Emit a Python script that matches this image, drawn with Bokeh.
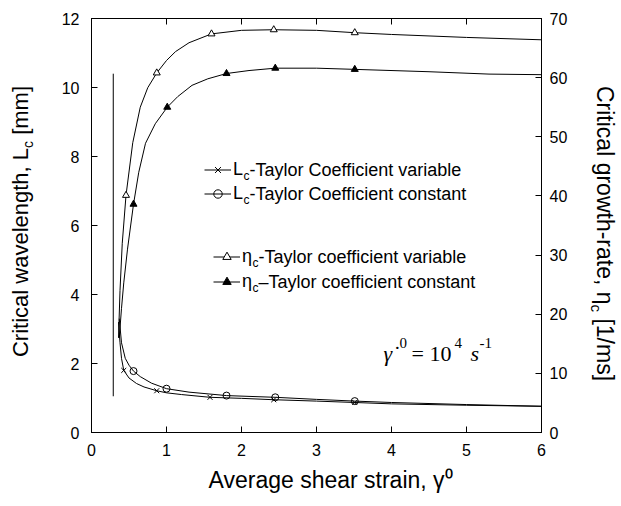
import math
from bokeh.plotting import figure
from bokeh.layouts import row
from bokeh.models import Range1d, LinearAxis, Label, Legend, LegendItem, FixedTicker, Title
from bokeh.embed import file_html
from bokeh.resources import INLINE

# ---------------- data ----------------
# L_c, Taylor coefficient variable (left axis, mm)
lvar_x = [0.36, 0.38, 0.40, 0.43, 0.50, 0.60, 0.70, 0.87, 1.0, 1.2, 1.58, 2.0, 2.43, 3.0, 3.51, 4.0, 5.0, 6.0]
lvar_y = [3.2, 2.6, 2.15, 1.80, 1.58, 1.42, 1.32, 1.21, 1.15, 1.10, 1.02, 0.99, 0.95, 0.91, 0.87, 0.83, 0.79, 0.76]
lvar_mx = [0.43, 0.87, 1.58, 2.43, 3.51]
lvar_my = [1.80, 1.21, 1.02, 0.95, 0.87]

# L_c, Taylor coefficient constant (left axis, mm)
lcon_x = [0.37, 0.40, 0.45, 0.50, 0.56, 0.65, 0.80, 1.0, 1.3, 1.8, 2.45, 3.0, 3.51, 4.0, 5.0, 6.0]
lcon_y = [3.3, 2.6, 2.15, 1.95, 1.78, 1.62, 1.43, 1.27, 1.17, 1.07, 1.02, 0.96, 0.91, 0.87, 0.81, 0.76]
lcon_mx = [0.56, 1.0, 1.80, 2.45, 3.51]
lcon_my = [1.78, 1.27, 1.07, 1.02, 0.91]

# eta_c, Taylor coefficient variable (right axis, 1/ms)
evar_x = [0.36, 0.38, 0.41, 0.46, 0.55, 0.65, 0.75, 0.87, 1.0, 1.12, 1.3, 1.6, 2.0, 2.43, 3.0, 3.51, 4.0, 5.0, 6.0]
evar_y = [16, 24, 32, 40.1, 49, 55, 58.3, 60.8, 62.9, 64.4, 65.9, 67.4, 68.0, 68.1, 68.0, 67.6, 67.3, 66.8, 66.4]
evar_mx = [0.46, 0.87, 1.60, 2.43, 3.51]
evar_my = [40.1, 60.8, 67.4, 68.1, 67.6]

# eta_c, Taylor coefficient constant (right axis, 1/ms)
econ_x = [0.37, 0.40, 0.43, 0.48, 0.56, 0.63, 0.72, 0.85, 1.01, 1.15, 1.34, 1.55, 1.8, 2.1, 2.45, 3.0, 3.51, 4.5, 5.3, 6.0]
econ_y = [16, 21, 25.3, 31, 38.6, 44, 48.9, 52.2, 55.0, 56.8, 58.7, 59.8, 60.7, 61.2, 61.6, 61.6, 61.4, 61.0, 60.6, 60.5]
econ_mx = [0.56, 1.01, 1.80, 2.45, 3.51]
econ_my = [38.6, 55.0, 60.7, 61.6, 61.4]

# near-vertical line at small strain (left axis)
vert_x = [0.29, 0.29]
vert_y = [1.05, 10.4]

x_ticks = [0, 1, 2, 3, 4, 5, 6]
left_ticks = [0, 2, 4, 6, 8, 10, 12]
right_ticks = [0, 10, 20, 30, 40, 50, 60, 70]

# ---------------- layout constants ----------------
SANS = "Liberation Sans"
SERIF = "Liberation Serif"
FRAME_W, FRAME_H = 450, 414
B_LEFT, B_RIGHT, B_TOP, B_BOTTOM = 49, 30, 18, 70
LW, RW = 42, 48

WID = {' ': 278, ',': 278, '-': 333, '\u2013': 556, '/': 278, '[': 278, ']': 278, '1': 556,
       'A': 667, 'C': 722, 'L': 556, 'T': 611, 'a': 556, 'b': 556, 'c': 500, 'e': 556,
       'f': 278, 'g': 556, 'h': 556, 'i': 222, 'l': 222, 'm': 833, 'n': 556, 'o': 556,
       'r': 333, 's': 500, 't': 278, 'v': 500, 'w': 722, 'y': 500, '\u03b7': 556}

def tw(s, size):
    return sum(WID.get(ch, 556) for ch in s) / 1000.0 * size

def lab(fig, text, x, y, size, font=SANS, style="normal", angle=0.0, align="left", baseline="alphabetic"):
    fig.add_layout(Label(x=x, y=y, x_units="screen", y_units="screen", text=text,
                         text_font=font, text_font_size=f"{size}px", text_font_style=style,
                         text_color="black", angle=angle, text_align=align, text_baseline=baseline))

# ---------------- main figure ----------------
p = figure(frame_width=FRAME_W, frame_height=FRAME_H, x_range=Range1d(0, 6), y_range=Range1d(0, 12),
           output_backend="svg", toolbar_location=None,
           min_border_left=B_LEFT, min_border_right=B_RIGHT, min_border_top=B_TOP, min_border_bottom=B_BOTTOM)
p.extra_y_ranges = {"eta": Range1d(0, 70)}
p.xgrid.visible = False
p.ygrid.visible = False
p.outline_line_color = "black"
p.background_fill_color = "white"
p.border_fill_color = "white"

def style_axis(ax, standoff):
    ax.axis_line_color = "black"
    ax.major_tick_line_color = "black"
    ax.major_tick_in = 6
    ax.major_tick_out = 0
    ax.minor_tick_line_color = None
    ax.major_label_text_font = SANS
    ax.major_label_text_font_size = "16px"
    ax.major_label_text_color = "black"
    ax.major_label_standoff = standoff

xa = p.xaxis[0]
xa.ticker = FixedTicker(ticks=x_ticks)
style_axis(xa, 11)

ya = p.yaxis[0]
ya.ticker = FixedTicker(ticks=left_ticks)
style_axis(ya, 12)

ra = LinearAxis(y_range_name="eta", ticker=FixedTicker(ticks=right_ticks))
style_axis(ra, 8)
p.add_layout(ra, "right")

ta = LinearAxis(ticker=FixedTicker(ticks=x_ticks))
style_axis(ta, 0)
ta.major_label_overrides = {t: "" for t in x_ticks}
p.add_layout(ta, "above")

# x axis title, placed like the reference (slightly right of centre)
p.add_layout(Title(text="Average shear strain, \u03b3\u2070", align="left", offset=117,
                   text_font=SANS, text_font_size="23px", text_font_style="normal",
                   text_color="black", standoff=12), "below")

# ---------------- data glyphs ----------------
kw = dict(line_color="black", line_width=1)
p.line(vert_x, vert_y, **kw)

r_lvar = p.line(lvar_x, lvar_y, **kw)
s_lvar = p.scatter(lvar_mx, lvar_my, marker="x", size=7, line_color="black", line_width=1)
r_lcon = p.line(lcon_x, lcon_y, **kw)
s_lcon = p.scatter(lcon_mx, lcon_my, marker="circle", size=7, fill_color=None, line_color="black", line_width=1)
r_evar = p.line(evar_x, evar_y, y_range_name="eta", **kw)
s_evar = p.scatter(evar_mx, evar_my, marker="triangle", size=7, fill_color="white", line_color="black",
                   line_width=1, y_range_name="eta")
r_econ = p.line(econ_x, econ_y, y_range_name="eta", **kw)
s_econ = p.scatter(econ_mx, econ_my, marker="triangle", size=7, fill_color="black", line_color="black",
                   line_width=1, y_range_name="eta")

# ---------------- legends ----------------
LEG_FS = 18
SUB_FS = 12
ROW_H = 21

def mk_legend(items, loc, spacing):
    lg = Legend(items=items, location=loc, orientation="vertical", padding=0, margin=0,
                spacing=spacing, glyph_width=27, glyph_height=ROW_H, label_height=ROW_H,
                label_standoff=2, border_line_color=None, background_fill_alpha=0,
                label_text_font=SANS, label_text_font_size=f"{LEG_FS}px", label_text_color="black")
    p.add_layout(lg)

legA = (113, 228.5)
legB = (122, 140.5)
mk_legend([LegendItem(label="L", renderers=[r_lvar, s_lvar]),
           LegendItem(label="L", renderers=[r_lcon, s_lcon])], legA, 3)
mk_legend([LegendItem(label="\u03b7", renderers=[r_evar, s_evar]),
           LegendItem(label="\u03b7", renderers=[r_econ, s_econ])], legB, 4)

def legend_tail(x0, yc, first, tail):
    xs = x0 + 27 + 2 + tw(first, LEG_FS)
    lab(p, "c", xs, yc - 6, SUB_FS, baseline="middle")
    lab(p, tail, xs + tw("c", SUB_FS), yc, LEG_FS, baseline="middle")

half = ROW_H / 2
legend_tail(legA[0], legA[1] + half + ROW_H + 3, "L", "-Taylor Coefficient variable")
legend_tail(legA[0], legA[1] + half, "L", "-Taylor Coefficient constant")
legend_tail(legB[0], legB[1] + half + ROW_H + 4, "\u03b7", "-Taylor coefficient variable")
legend_tail(legB[0], legB[1] + half, "\u03b7", "\u2013Taylor coefficient constant")

# rate annotation
GY = 79
lab(p, "\u03b3\u0307", 292, GY, 22, font=SERIF, style="italic")
lab(p, "0", 308, GY + 11, 15, font=SERIF)
lab(p, "= 10", 320, GY, 22, font=SERIF)
lab(p, "4", 363, GY + 11, 15, font=SERIF)
lab(p, "s", 379, GY, 22, font=SERIF, style="italic")
lab(p, "-1", 388, GY + 11, 15, font=SERIF)

# ---------------- side label figures (frames align with the main frame) ----------------
def side_fig(w):
    f = figure(width=w, height=B_TOP + FRAME_H + B_BOTTOM, x_range=Range1d(0, 1), y_range=Range1d(0, 1),
               output_backend="svg", toolbar_location=None, min_border=0,
               x_axis_location=None, y_axis_location=None)
    f.grid.visible = False
    f.outline_line_color = None
    f.background_fill_color = "white"
    f.border_fill_color = "white"
    return f

def rotated_label(fig, parts, xb, ystart, size, subsize, drop, direction):
    main, sub, tail = parts
    ang = math.pi / 2 * direction
    w_main = tw(main, size)
    w_sub = tw(sub, subsize)
    w_space = tw(" ", size)
    lab(fig, main, xb, ystart, size, angle=ang)
    lab(fig, sub, xb + drop * direction, ystart + direction * w_main, subsize, angle=ang)
    lab(fig, tail, xb, ystart + direction * (w_main + w_sub + w_space), size, angle=ang)

AXL, SUBL = 22, 14
lf = side_fig(LW)
p1 = ("Critical wavelength, L", "c", "[mm]")
W1 = tw(p1[0], AXL) + tw(p1[1], SUBL) + tw(" " + p1[2], AXL)
rotated_label(lf, p1, 20, 211 - W1 / 2, AXL, SUBL, 7, 1)

AXR, SUBR = 23, 15
rf = side_fig(RW)
p2 = ("Critical growth-rate, \u03b7", "c", "[1/ms]")
W2 = tw(p2[0], AXR) + tw(p2[1], SUBR) + tw(" " + p2[2], AXR)
rotated_label(rf, p2, 33, 199 + W2 / 2, AXR, SUBR, 8, -1)

layout = row(lf, p, rf, spacing=0)
open("out.html", "w").write(file_html(layout, INLINE))
